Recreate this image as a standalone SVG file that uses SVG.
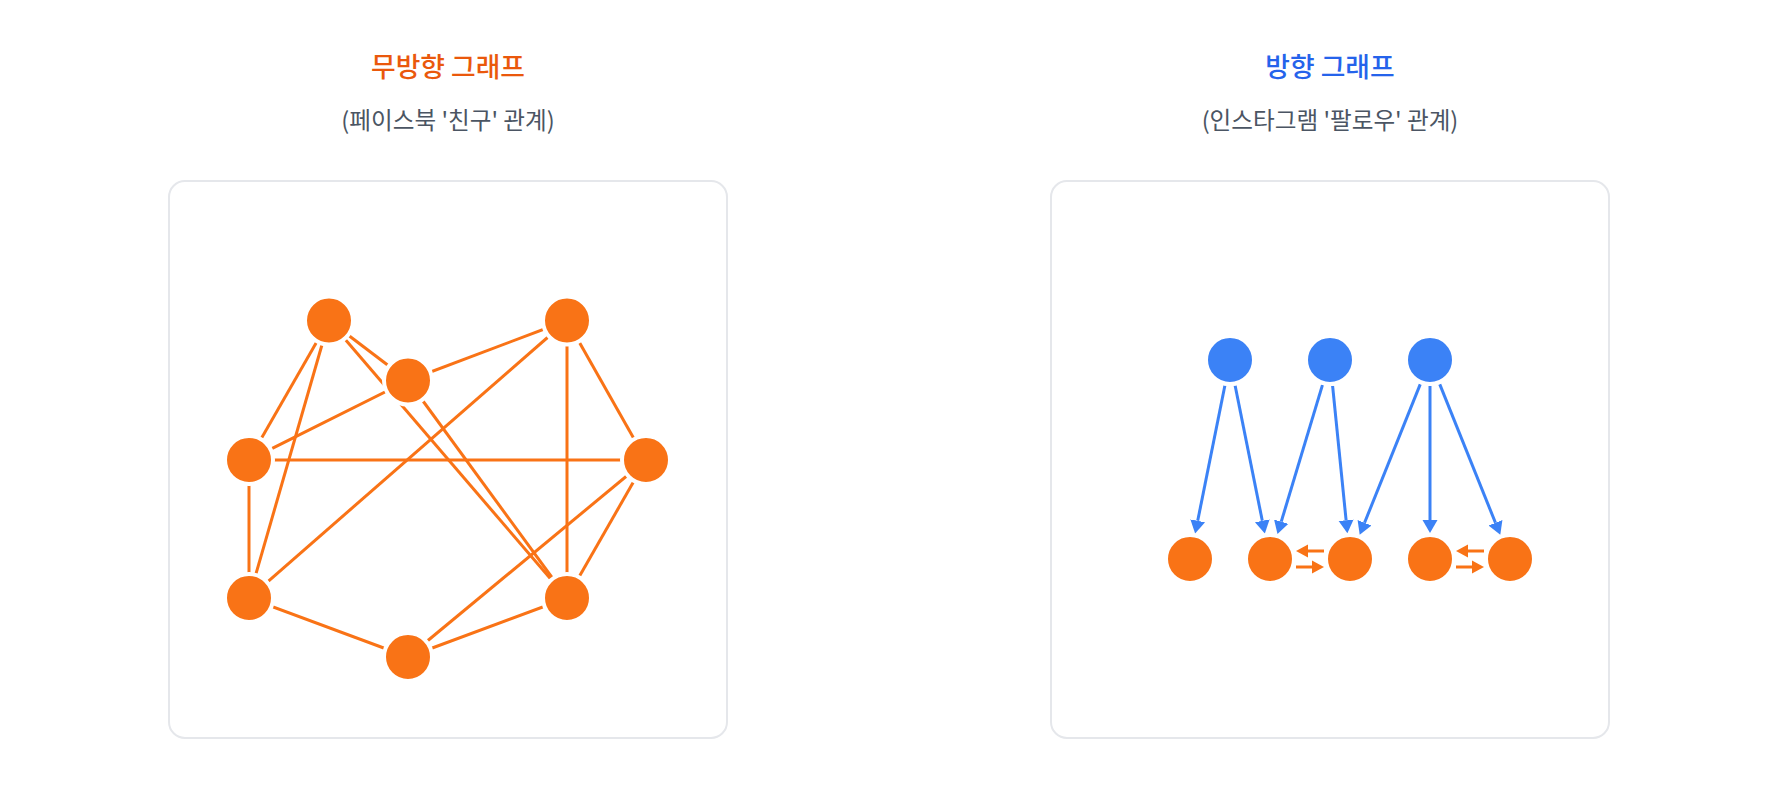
<svg xmlns="http://www.w3.org/2000/svg" width="1776" height="790" viewBox="0 0 1776 790">
<style>
.title{font-family:"Noto Sans CJK KR","Noto Sans",sans-serif;font-size:26.8px;font-weight:500;text-anchor:middle}
.sub{font-family:"Noto Sans CJK KR","Noto Sans",sans-serif;font-size:23.6px;fill:#4b5563;text-anchor:middle}
.panel{fill:#ffffff;stroke:#e5e7eb;stroke-width:2}
.edge{stroke:#f97316;stroke-width:3;fill:none}
.bl{stroke:#3b82f6;stroke-width:3;fill:none;marker-end:url(#ab)}
.or{stroke:#f97316;stroke-width:3;fill:none;marker-end:url(#ao)}
.on{fill:#f97316;stroke:#ffffff;stroke-width:4}
.bn{fill:#3b82f6;stroke:#ffffff;stroke-width:4}
</style>
<defs>
<marker id="ab" markerUnits="userSpaceOnUse" markerWidth="14" markerHeight="16" refX="0" refY="8" orient="auto" viewBox="0 0 14 16">
<path d="M0,0.5 L13,8 L0,15.5 z" fill="#3b82f6"/>
</marker>
<marker id="ao" markerUnits="userSpaceOnUse" markerWidth="13" markerHeight="14" refX="0" refY="7" orient="auto" viewBox="0 0 13 14">
<path d="M0,0.5 L12,7 L0,13.5 z" fill="#f97316"/>
</marker>
</defs>
<rect width="1776" height="790" fill="#ffffff"/>

<g id="left-header">
<text class="title" x="448" y="77" fill="#ea580c">무방향 그래프</text>
<text class="sub" x="448" y="129">(페이스북 '친구' 관계)</text>
</g>
<g id="right-header">
<text class="title" x="1330" y="77" fill="#2563eb">방향 그래프</text>
<text class="sub" x="1330" y="129">(인스타그램 '팔로우' 관계)</text>
</g>

<rect id="left-panel" class="panel" x="169" y="181" width="558" height="557" rx="16"/>
<rect id="right-panel" class="panel" x="1051" y="181" width="558" height="557" rx="16"/>

<g id="connectors">
<g id="undirected-edges">
<line class="edge" x1="329" y1="320.5" x2="408" y2="380.5"/>
<line class="edge" x1="329" y1="320.5" x2="567" y2="598"/>
<line class="edge" x1="329" y1="320.5" x2="249" y2="460"/>
<line class="edge" x1="329" y1="320.5" x2="249" y2="598"/>
<line class="edge" x1="408" y1="380.5" x2="567" y2="320.5"/>
<line class="edge" x1="408" y1="380.5" x2="249" y2="460"/>
<line class="edge" x1="408" y1="380.5" x2="567" y2="598"/>
<line class="edge" x1="567" y1="320.5" x2="249" y2="598"/>
<line class="edge" x1="567" y1="320.5" x2="567" y2="598"/>
<line class="edge" x1="567" y1="320.5" x2="646" y2="460"/>
<line class="edge" x1="249" y1="460" x2="646" y2="460"/>
<line class="edge" x1="249" y1="460" x2="249" y2="598"/>
<line class="edge" x1="646" y1="460" x2="408" y2="657"/>
<line class="edge" x1="646" y1="460" x2="567" y2="598"/>
<line class="edge" x1="249" y1="598" x2="408" y2="657"/>
<line class="edge" x1="567" y1="598" x2="408" y2="657"/>
</g>
<g id="directed-edges">
<line class="bl" x1="1224.9" y1="385.5" x2="1197.7" y2="520.8"/>
<line class="bl" x1="1235.1" y1="385.5" x2="1262.3" y2="520.8"/>
<line class="bl" x1="1322.5" y1="384.9" x2="1281.25" y2="521.65"/>
<line class="bl" x1="1332.6" y1="385.9" x2="1346.1" y2="520.2"/>
<line class="bl" x1="1420.3" y1="384.1" x2="1364.55" y2="522.8"/>
<line class="bl" x1="1430" y1="386" x2="1430" y2="520"/>
<line class="bl" x1="1439.7" y1="384.1" x2="1495.45" y2="522.8"/>
<line class="or" x1="1324" y1="551" x2="1308" y2="551"/>
<line class="or" x1="1296" y1="567" x2="1312" y2="567"/>
<line class="or" x1="1484" y1="551" x2="1468" y2="551"/>
<line class="or" x1="1456" y1="567" x2="1472" y2="567"/>
</g>
</g>

<g id="node-u1"><circle class="on" cx="329" cy="320.5" r="24"/></g>
<g id="node-u2"><circle class="on" cx="408" cy="380.5" r="24"/></g>
<g id="node-u3"><circle class="on" cx="567" cy="320.5" r="24"/></g>
<g id="node-u4"><circle class="on" cx="249" cy="460" r="24"/></g>
<g id="node-u5"><circle class="on" cx="646" cy="460" r="24"/></g>
<g id="node-u6"><circle class="on" cx="249" cy="598" r="24"/></g>
<g id="node-u7"><circle class="on" cx="567" cy="598" r="24"/></g>
<g id="node-u8"><circle class="on" cx="408" cy="657" r="24"/></g>

<g id="node-b1"><circle class="bn" cx="1230" cy="360" r="24"/></g>
<g id="node-b2"><circle class="bn" cx="1330" cy="360" r="24"/></g>
<g id="node-b3"><circle class="bn" cx="1430" cy="360" r="24"/></g>
<g id="node-o1"><circle class="on" cx="1190" cy="559" r="24"/></g>
<g id="node-o2"><circle class="on" cx="1270" cy="559" r="24"/></g>
<g id="node-o3"><circle class="on" cx="1350" cy="559" r="24"/></g>
<g id="node-o4"><circle class="on" cx="1430" cy="559" r="24"/></g>
<g id="node-o5"><circle class="on" cx="1510" cy="559" r="24"/></g>
</svg>
